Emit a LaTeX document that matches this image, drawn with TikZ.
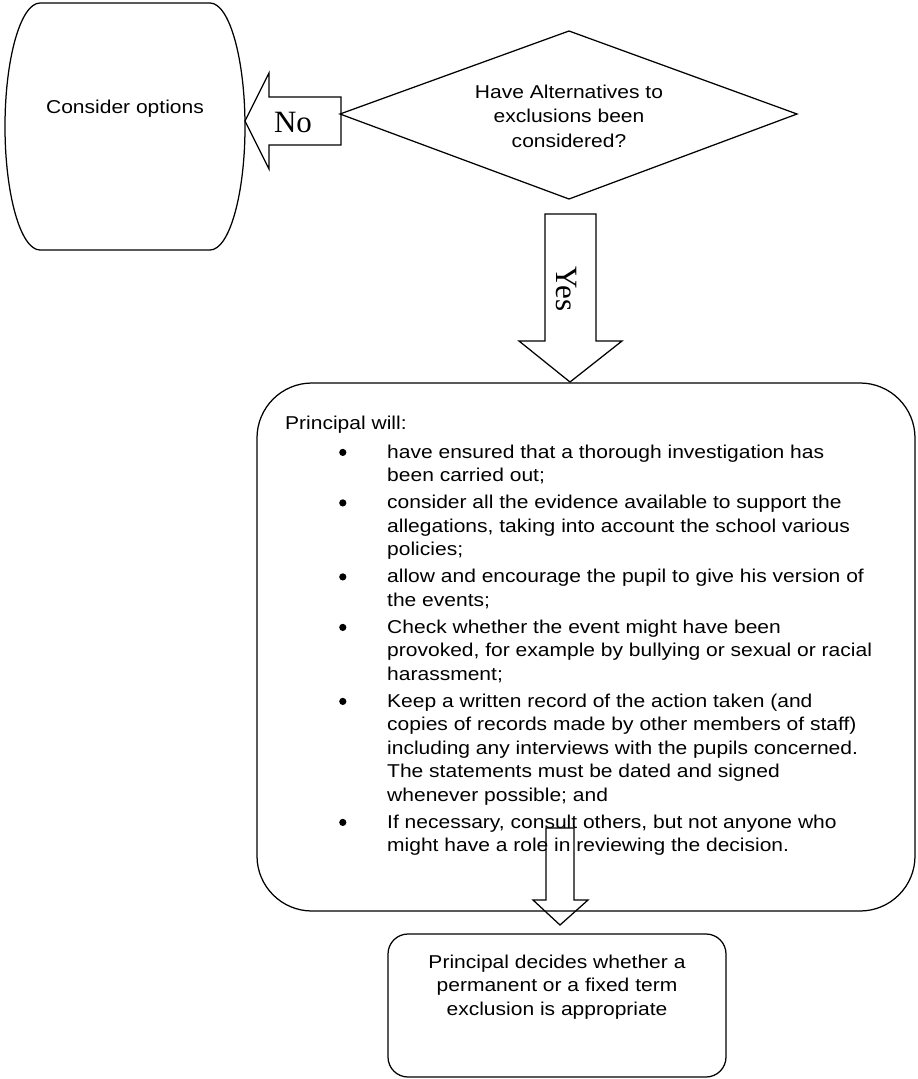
\documentclass[tikz,border=0pt]{standalone}
\usepackage{fontspec}
\setmainfont{Liberation Sans}[FakeStretch=1.13]
\newfontfamily\lblfont{Liberation Serif}
\newcommand{\bodyfont}{\fontsize{18.6}{23.5}\selectfont}
\newcommand{\bul}{\tikz[baseline=0pt]\fill[black] (3.6pt,5.6pt) circle[radius=3.6pt];}
\newcommand{\itm}[1]{\par\vspace{3.5pt}\noindent\hangindent=102pt\hangafter=1\hspace*{54pt}\makebox[48pt][l]{\bul}#1}
\tikzset{
  outline/.style={draw=black, line width=1.25pt, line join=miter},
  blockarrow/.style={draw=black, line width=1.25pt, line join=miter},
  txt/.style={font=\bodyfont, align=center, inner sep=0pt},
  lbl/.style={font=\lblfont\fontsize{31}{31}\selectfont, inner sep=0pt},
}
\begin{document}
\begin{tikzpicture}[x=1pt, y=-1pt]
\useasboundingbox (0,0) rectangle (918,1079);
\fill[white] (0,0) rectangle (918,1079);

% Consider options (curved-sided box)
\draw[outline] (40,3) -- (210,3)
  .. controls (229.3,3) and (245,58.5) .. (245,126.5)
  .. controls (245,194.5) and (229.3,250) .. (210,250)
  -- (40,250)
  .. controls (20.7,250) and (5,194.5) .. (5,126.5)
  .. controls (5,58.5) and (20.7,3) .. (40,3) -- cycle;
\node[txt] (cons) at (125,109) {Consider options};
\coordinate (consE) at (245,121);

% Decision diamond
\draw[outline] (340,114) -- (569,31) -- (797,114) -- (569,199) -- cycle;
\node[txt, font=\fontsize{18.6}{24.5}\selectfont] (dec) at (569,116)
  {Have Alternatives to\\exclusions been\\considered?};
\coordinate (decW) at (340,114);
\coordinate (decS) at (569,199);

% No arrow
\draw[blockarrow] (consE) -- (269,73) -- (269,97) -- (341,97) -- (341,145)
  -- (269,145) -- (269,169) -- cycle;
\node[lbl] (no) at (293,122) {No};

% Main box
\node[outline, rounded corners=55pt, minimum width=658pt, minimum height=528pt, inner sep=0pt] (main) at (586,647) {};

% Yes arrow
\draw[blockarrow] (545,214) -- (596,214) -- (596,341) -- (622,341)
  -- (570,382) -- (519,341) -- (545,341) -- cycle;
\node[lbl, rotate=-90] (yes) at (566,289) {Yes};

% Main text
\node[anchor=base west, inner sep=0pt] (list) at (285,429) {%
\begin{minipage}[t]{620pt}\bodyfont
\noindent Principal will:\par\vspace{2pt}
\itm{have ensured that a thorough investigation has\\been carried out;}
\itm{consider all the evidence available to support the\\allegations, taking into account the school various\\policies;}
\itm{allow and encourage the pupil to give his version of\\the events;}
\itm{Check whether the event might have been\\provoked, for example by bullying or sexual or racial\\harassment;}
\itm{Keep a written record of the action taken (and\\copies of records made by other members of staff)\\including any interviews with the pupils concerned.\\The statements must be dated and signed\\whenever possible; and}
\itm{If necessary, consult others, but not anyone who\\might have a role in reviewing the decision.}
\par
\end{minipage}};

% small arrow
\draw[blockarrow] (546,828) -- (574,828) -- (574,900) -- (588,900)
  -- (560,925) -- (533,900) -- (546,900) -- cycle;

% Final box
\node[outline, rounded corners=20pt, minimum width=338pt, minimum height=143pt, inner sep=0pt] (final) at (557,1005.5) {};
\node[txt] (finaltxt) at (557,987) {Principal decides whether a\\permanent or a fixed term\\exclusion is appropriate};
\end{tikzpicture}
\end{document}
